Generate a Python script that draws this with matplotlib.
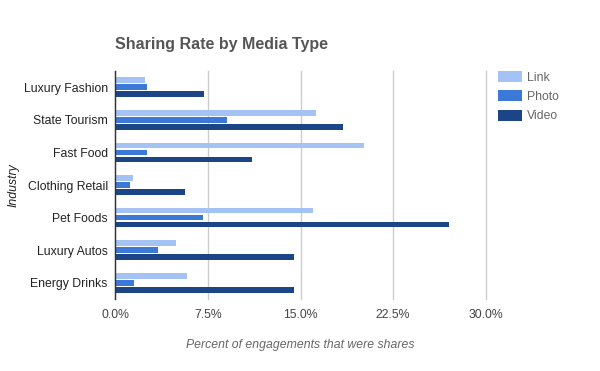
import numpy as np
import matplotlib.pyplot as plt
from matplotlib.ticker import FuncFormatter

# chart data
industries = ['Luxury Fashion', 'State Tourism', 'Fast Food', 'Clothing Retail',
              'Pet Foods', 'Luxury Autos', 'Energy Drinks']
link = [2.4, 16.25, 20.15, 1.45, 16.0, 4.9, 5.8]
photo = [2.6, 9.05, 2.6, 1.2, 7.1, 3.45, 1.5]
video = [7.15, 18.45, 11.1, 5.65, 27.0, 14.5, 14.5]
series_names = ['Link', 'Photo', 'Video']
series_colors = ['#a4c2f4', '#3c78d8', '#1c4587']
x_ticks = [0, 7.5, 15, 22.5, 30]

plt.rcParams['font.family'] = ['Liberation Sans', 'DejaVu Sans']
fs = 8.8

fig = plt.figure(figsize=(6, 3.71), dpi=100)
ax = fig.add_axes([0.1922, 0.194, 0.6173, 0.6146])

y = np.arange(len(industries))
pitch = 0.215
bar_h = 0.175
for i, (vals, name, col) in enumerate(zip([link, photo, video], series_names, series_colors)):
    ax.barh(y + (i - 1) * pitch, vals, height=bar_h, color=col, label=name, zorder=3)

ax.set_xlim(0, 30)
ax.set_ylim(len(industries) - 0.5, -0.5)
ax.set_xticks(x_ticks)
ax.xaxis.set_major_formatter(FuncFormatter(lambda v, p: '%.1f%%' % v))
ax.set_yticks(y)
ax.set_yticklabels(industries)

ax.grid(axis='x', color='#cccccc', linewidth=1, zorder=0)
for gl in ax.get_xgridlines():
    gl.set_clip_on(False)
for s in ['top', 'right', 'bottom']:
    ax.spines[s].set_visible(False)
ax.spines['left'].set_color('#333333')
ax.spines['left'].set_linewidth(1)
ax.spines['left'].set_zorder(4)
ax.tick_params(axis='both', length=0)
ax.tick_params(axis='y', pad=5.4, labelsize=fs, labelcolor='#222222')
ax.tick_params(axis='x', pad=7.5, labelsize=fs, labelcolor='#444444')

ax.set_xlabel('Percent of engagements that were shares', fontsize=fs,
              style='italic', color='#666666', labelpad=13)
fig.text(14 / 600, 1 - 185 / 371, 'Industry', rotation=90, fontsize=fs,
         style='italic', color='#222222', ha='center', va='center')

fig.text(115 / 600, 1 - 45 / 371, 'Sharing Rate by Media Type', fontsize=11.5,
         fontweight='bold', color='#555555', ha='left', va='center')

leg = ax.legend(loc='upper left', bbox_to_anchor=(498 / 600, 1 - 71 / 371),
                bbox_transform=fig.transFigure, frameon=False, fontsize=fs,
                handlelength=2.0, handleheight=1.0, labelspacing=0.55,
                handletextpad=0.4, borderpad=0, borderaxespad=0)
for t in leg.get_texts():
    t.set_color('#666666')

fig.savefig('out.png', dpi=100)
